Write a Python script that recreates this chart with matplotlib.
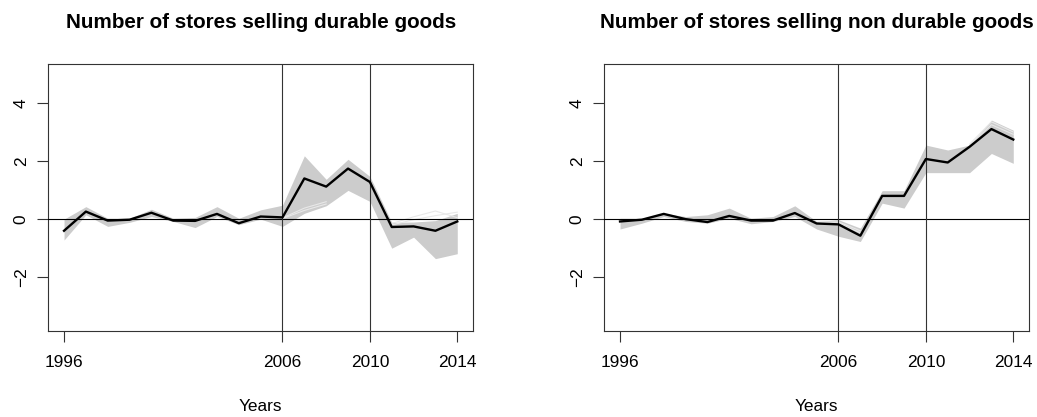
import matplotlib
matplotlib.use("Agg")
import matplotlib.pyplot as plt

plt.rcParams['font.family'] = ['Liberation Sans', 'DejaVu Sans']

years = list(range(1996, 2015))
xticks = [1996, 2006, 2010, 2014]
yticks = [-2, 0, 2, 4]
vlines = [2006, 2010]
titles = ["Number of stores selling durable goods",
          "Number of stores selling non durable goods"]
xlabel = "Years"

# Panel 1: durable goods
dur_main = [-0.40, 0.26, -0.05, -0.02, 0.22, -0.05, -0.06, 0.18, -0.14, 0.09,
            0.06, 1.40, 1.12, 1.74, 1.28, -0.27, -0.25, -0.40, -0.08]
dur_upper = [0.00, 0.43, 0.03, 0.03, 0.34, 0.03, 0.06, 0.43, 0.03, 0.32,
             0.48, 2.18, 1.37, 2.06, 1.47, -0.11, -0.10, -0.05, 0.20]
dur_lower = [-0.72, 0.15, -0.25, -0.11, 0.09, -0.08, -0.29, 0.09, -0.19, 0.00,
             -0.25, 0.20, 0.46, 0.99, 0.61, -1.00, -0.62, -1.36, -1.19]
dur_light_years = [2006, 2007, 2008]
dur_light_a = [0.04, 0.38, 0.60]
dur_light_b = [0.02, 0.30, 0.52]
dur_light2_years = [2011, 2012, 2013, 2014]
dur_light2_a = [-0.15, 0.08, 0.28, 0.05]
dur_light2_b = [-0.20, -0.02, 0.12, 0.24]

# Panel 2: non durable goods
non_main = [-0.08, -0.02, 0.18, 0.00, -0.10, 0.11, -0.05, -0.05, 0.21, -0.15,
            -0.18, -0.57, 0.80, 0.80, 2.07, 1.95, 2.49, 3.10, 2.74]
non_upper = [0.03, 0.03, 0.20, 0.09, 0.15, 0.38, 0.03, 0.09, 0.46, -0.08,
             -0.02, -0.31, 0.98, 0.98, 2.55, 2.38, 2.55, 3.41, 3.06]
non_lower = [-0.34, -0.14, 0.09, -0.08, -0.14, 0.03, -0.16, -0.08, 0.09, -0.34,
             -0.59, -0.77, 0.55, 0.38, 1.60, 1.60, 1.60, 2.26, 1.92]
non_light_years = [2005, 2006, 2007]
non_light_a = [-0.10, -0.10, -0.40]
non_light_b = [-0.12, -0.14, -0.47]
non_light2_years = [2012, 2013, 2014]
non_light2_a = [2.58, 3.35, 3.00]
non_light2_b = [2.54, 3.25, 2.92]

panels = [
    (dur_main, dur_upper, dur_lower,
     [(dur_light_years, dur_light_a), (dur_light_years, dur_light_b),
      (dur_light2_years, dur_light2_a), (dur_light2_years, dur_light2_b)]),
    (non_main, non_upper, non_lower,
     [(non_light_years, non_light_a), (non_light_years, non_light_b),
      (non_light2_years, non_light2_a), (non_light2_years, non_light2_b)]),
]

W, H = 1037, 417
fig = plt.figure(figsize=(W / 100, H / 100), dpi=100)
lefts = [48.3, 604.3]
aw = 424.7
top, bottom = 64.0, 330.7

for i, (main, up, lo, lights) in enumerate(panels):
    ax = fig.add_axes([lefts[i] / W, 1 - bottom / H, aw / W, (bottom - top) / H])
    ax.fill_between(years, lo, up, color='#cccccc', linewidth=0, zorder=1)
    for ly, lv in lights:
        ax.plot(ly, lv, color='#e8e8e8', lw=0.8, zorder=2)
    ax.axhline(0, color='black', lw=0.8, zorder=3)
    for v in vlines:
        ax.axvline(v, color='#333333', lw=0.8, zorder=3)
    ax.plot(years, main, color='black', lw=1.7, zorder=4)
    ax.set_xlim(1995.28, 2014.72)
    ax.set_ylim(-3.84, 5.34)
    ax.set_xticks(xticks)
    ax.set_yticks(yticks)
    ax.set_yticklabels([str(t).replace('-', '\u2212') for t in yticks],
                       rotation=90, va='center')
    ax.tick_params(axis='both', length=8, width=0.8, labelsize=12.4,
                   direction='out', color='#333333')
    ax.tick_params(axis='x', pad=9.5)
    ax.tick_params(axis='y', pad=6)
    for s in ax.spines.values():
        s.set_linewidth(0.8)
        s.set_color('#333333')
    ax.set_xlabel(xlabel, fontsize=12.4)
    ax.xaxis.set_label_coords(0.5, -0.285)
    ax.xaxis.label.set_va('center')
    fig.text((lefts[i] + aw / 2) / W, 1 - 22 / H, titles[i],
             fontsize=14.9, fontweight='bold', ha='center', va='center')

fig.savefig('out.png', dpi=100)
